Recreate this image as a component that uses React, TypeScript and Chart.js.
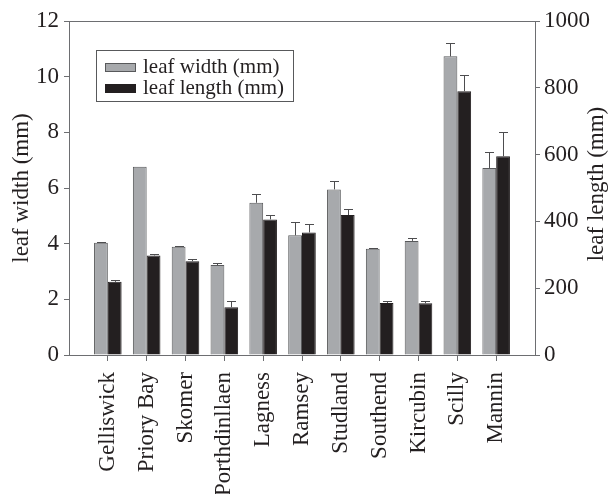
import React, { useEffect, useRef } from "react";
import { Chart, registerables } from "chart.js";

Chart.register(...registerables);

const sites = [
  "Gelliswick",
  "Priory Bay",
  "Skomer",
  "Porthdinllaen",
  "Lagness",
  "Ramsey",
  "Studland",
  "Southend",
  "Kircubin",
  "Scilly",
  "Mannin",
];
const leafWidth = [4.03, 6.76, 3.89, 3.23, 5.47, 4.3, 5.95, 3.82, 4.1, 10.73, 6.72];
const leafWidthErr = [0.04, 0, 0.03, 0.07, 0.3, 0.47, 0.31, 0.02, 0.1, 0.48, 0.58];
const leafLength = [219, 298, 281, 143, 406, 367, 419, 156, 155, 790, 595];
const leafLengthErr = [5, 5, 6, 19, 13, 24, 18, 6, 8, 47, 74];
const widthTicks = [0, 12, 2];
const lengthTicks = [0, 1000, 200];

const FONT = "'Liberation Serif', 'Times New Roman', serif";
const TEXT = "#231f20";
const AXIS = "#6d6e71";

export default function App() {
  const ref = useRef<HTMLCanvasElement | null>(null);

  useEffect(() => {
    if (!ref.current) return;
    const labels = ["", ...sites, ""];
    const errs = [
      [null, ...leafWidthErr, null],
      [null, ...leafLengthErr, null],
    ];

    const errorBars = {
      id: "errorBars",
      afterDatasetsDraw(chart: any) {
        const ctx = chart.ctx;
        ctx.save();
        chart.data.datasets.forEach((ds: any, di: number) => {
          const meta = chart.getDatasetMeta(di);
          const scale = chart.scales[ds.yAxisID];
          meta.data.forEach((el: any, j: number) => {
            const v = ds.data[j];
            const e = errs[di][j];
            if (v == null || !e) return;
            const yTop = scale.getPixelForValue(v + e);
            ctx.strokeStyle = "#4d4d4f";
            ctx.lineWidth = 1;
            ctx.beginPath();
            ctx.moveTo(Math.round(el.x) + 0.5, el.y);
            ctx.lineTo(Math.round(el.x) + 0.5, Math.round(yTop) + 0.5);
            ctx.moveTo(Math.round(el.x) - 4, Math.round(yTop) + 0.5);
            ctx.lineTo(Math.round(el.x) + 5, Math.round(yTop) + 0.5);
            ctx.stroke();
          });
        });
        ctx.restore();
      },
    };

    const frameAndLegend = {
      id: "frameAndLegend",
      afterDraw(chart: any) {
        const ctx = chart.ctx;
        const a = chart.chartArea;
        ctx.save();
        // top frame line
        ctx.strokeStyle = AXIS;
        ctx.lineWidth = 1;
        ctx.beginPath();
        ctx.moveTo(a.left, Math.round(a.top) + 0.5);
        ctx.lineTo(a.right, Math.round(a.top) + 0.5);
        ctx.stroke();

        // right axis title (reads bottom-to-top)
        ctx.save();
        ctx.translate(597, (a.top + a.bottom) / 2 - 4);
        ctx.rotate(-Math.PI / 2);
        ctx.font = `23px ${FONT}`;
        ctx.fillStyle = TEXT;
        ctx.textAlign = "center";
        ctx.textBaseline = "middle";
        ctx.fillText("leaf length (mm)", 0, 0);
        ctx.restore();

        // legend
        ctx.strokeStyle = "#58595b";
        ctx.lineWidth = 1;
        ctx.strokeRect(96.5, 50.5, 197, 51);
        ctx.font = `21px ${FONT}`;
        ctx.textAlign = "left";
        ctx.textBaseline = "alphabetic";
        chart.data.datasets.forEach((ds: any, i: number) => {
          const y = 63 + i * 21;
          ctx.fillStyle = ds.backgroundColor;
          ctx.fillRect(105, y, 31, 9);
          ctx.strokeStyle = ds.borderColor;
          ctx.strokeRect(105.5, y + 0.5, 30, 8);
          ctx.fillStyle = TEXT;
          ctx.fillText(ds.label, 143, y + 10);
        });
        ctx.restore();
      },
    };

    const chart = new Chart(ref.current, {
      type: "bar",
      data: {
        labels,
        datasets: [
          {
            label: "leaf width (mm)",
            data: [null, ...leafWidth, null],
            backgroundColor: "#a7a9ac",
            borderColor: "#58595b",
            borderWidth: 1,
            yAxisID: "y",
            categoryPercentage: 0.71,
            barPercentage: 1,
          },
          {
            label: "leaf length (mm)",
            data: [null, ...leafLength, null],
            backgroundColor: "#231f20",
            borderColor: "#231f20",
            borderWidth: 1,
            yAxisID: "y1",
            categoryPercentage: 0.71,
            barPercentage: 1,
          },
        ],
      } as any,
      options: {
        animation: false,
        responsive: false,
        devicePixelRatio: 1,
        layout: { padding: { top: 21, left: 0, right: 0, bottom: 0 } },
        plugins: {
          legend: { display: false },
          tooltip: { enabled: false },
        },
        scales: {
          x: {
            type: "category",
            offset: false,
            border: { display: true, color: AXIS, width: 1 },
            grid: {
              drawOnChartArea: false,
              drawTicks: true,
              tickLength: 6,
              offset: false,
              tickColor: (c: any) =>
                c.index === 0 || c.index === labels.length - 1 ? "rgba(0,0,0,0)" : AXIS,
            },
            ticks: {
              autoSkip: false,
              minRotation: 90,
              maxRotation: 90,
              padding: 11,
              color: TEXT,
              font: { family: FONT, size: 23 },
            },
            afterFit: (s: any) => {
              s.height = 139;
            },
          },
          y: {
            type: "linear",
            position: "left",
            min: widthTicks[0],
            max: widthTicks[1],
            border: { display: true, color: AXIS, width: 1 },
            grid: { drawOnChartArea: false, tickLength: 5, tickColor: AXIS },
            ticks: {
              stepSize: widthTicks[2],
              padding: 5,
              color: TEXT,
              font: { family: FONT, size: 23 },
            },
            title: {
              display: true,
              text: "leaf width (mm)",
              color: TEXT,
              font: { family: FONT, size: 23 },
              padding: { top: 8, bottom: 0 },
            },
            afterFit: (s: any) => {
              s.width = 69;
            },
          },
          y1: {
            type: "linear",
            position: "right",
            min: lengthTicks[0],
            max: lengthTicks[1],
            border: { display: true, color: AXIS, width: 1 },
            grid: { drawOnChartArea: false, tickLength: 5, tickColor: AXIS },
            ticks: {
              stepSize: lengthTicks[2],
              padding: 4,
              color: TEXT,
              font: { family: FONT, size: 23 },
              callback: (v: any) => String(v),
            },
            afterFit: (s: any) => {
              s.width = 75;
            },
          },
        },
      } as any,
      plugins: [errorBars, frameAndLegend],
    });
    return () => chart.destroy();
  }, []);

  return (
    <div style={{ position: "absolute", left: 0, top: 0, width: 610, height: 494, background: "#fff" }}>
      <canvas ref={ref} width={610} height={494} style={{ display: "block" }} />
    </div>
  );
}
